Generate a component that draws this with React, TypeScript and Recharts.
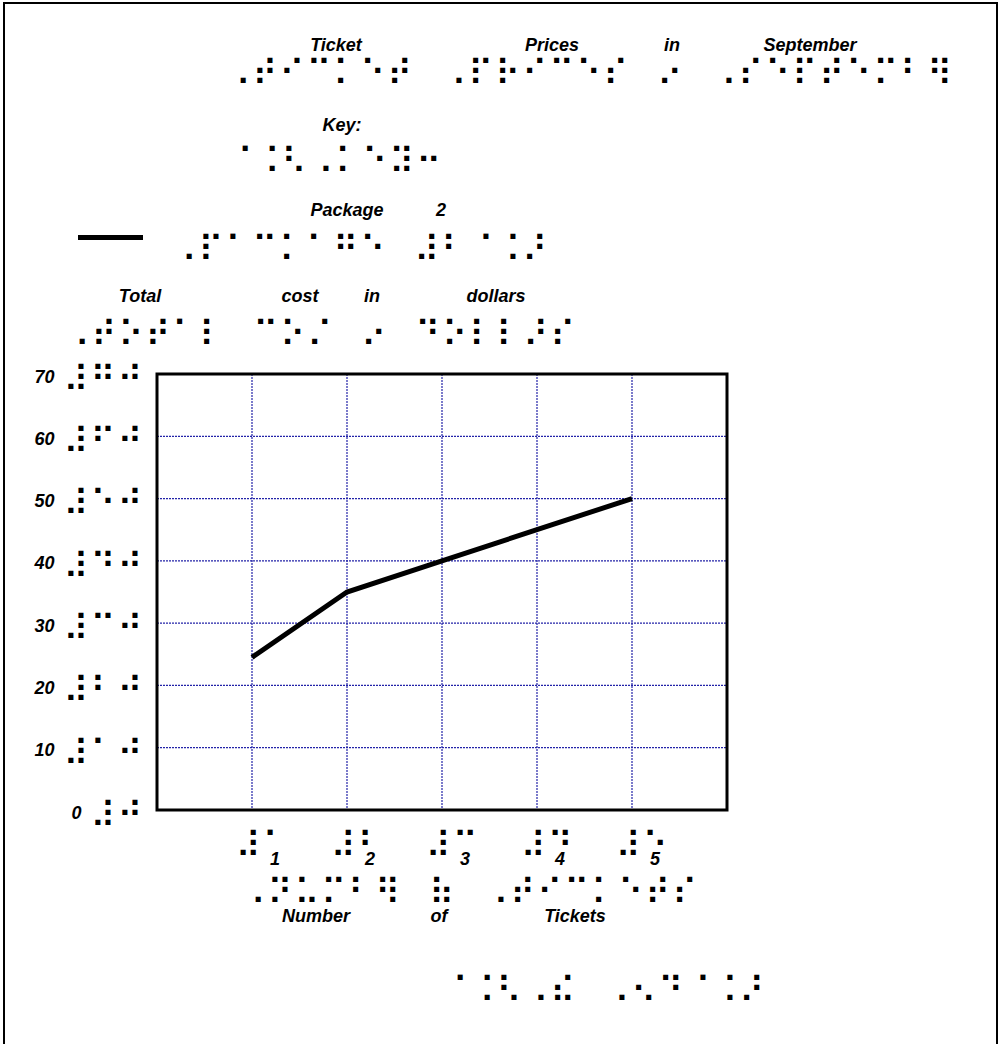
import { LineChart, Line, XAxis, YAxis, CartesianGrid, ReferenceArea } from "recharts";

// data
const tickets = [1, 2, 3, 4, 5];
const package2Cost = [24.5, 35, 40, 45, 50];
const yTicks = [0, 10, 20, 30, 40, 50, 60, 70];

// print labels
const titleWords = ["Ticket", "Prices", "in", "September"];
const keyWords = ["Key:"];
const legendWords = ["Package", "2"];
const yTitleWords = ["Total", "cost", "in", "dollars"];
const xTitleWords = ["Number", "of", "Tickets"];

// braille lines (UEB grade 2)
const titleBraille = "⠠⠞⠊⠉⠅⠑⠞⠀⠠⠏⠗⠊⠉⠑⠎⠀⠔⠀⠠⠎⠑⠏⠞⠑⠍⠃⠻";
const keyBraille = "⠈⠨⠣⠠⠅⠑⠽⠒";
const legendBraille = "⠠⠏⠁⠉⠅⠁⠛⠑⠀⠼⠃⠈⠨⠜";
const yTitleBraille = "⠠⠞⠕⠞⠁⠇⠀⠉⠕⠌⠀⠔⠀⠙⠕⠇⠇⠜⠎";
const xTitleBraille = "⠠⠝⠥⠍⠃⠻⠀⠷⠀⠠⠞⠊⠉⠅⠑⠞⠎";
const footerBraille = "⠈⠨⠣⠠⠮⠀⠠⠢⠙⠈⠨⠜";
const brailleDigits = ["⠚", "⠁", "⠃", "⠉", "⠙", "⠑", "⠋", "⠛", "⠓", "⠊"];

const data = tickets.map((t, i) => ({ tickets: t, cost: package2Cost[i] }));

const W = 999;
const H = 1044;
const PLOT = { left: 157, top: 374, right: 727, bottom: 810 };
const PITCH = 27; // braille cell pitch
const DOT_GAP = 10; // dot spacing inside a cell

const LABEL_FONT = {
  fontFamily: '"Liberation Sans", Arial, sans-serif',
  fontWeight: 700,
  fontStyle: "italic",
  fontSize: 18,
  fill: "#000",
};
const BRAILLE_FONT = '"DejaVu Sans"';

const toBrailleNumber = (n: number) =>
  "⠼" + String(n).split("").map((d) => brailleDigits[Number(d)]).join("");

// work out how the braille glyphs sit so dots land on a 10px grid
function measureBraille() {
  const fallback = { fontSize: 25, advance: 16, left: 4, top: 17, rowGap: 10 };
  try {
    const ctx = document.createElement("canvas").getContext("2d");
    if (!ctx) return fallback;
    ctx.font = `100px ${BRAILLE_FONT}`;
    const full = ctx.measureText("⠿");
    const one = ctx.measureText("⠁");
    const d = one.actualBoundingBoxLeft + one.actualBoundingBoxRight;
    const colGap = full.actualBoundingBoxLeft + full.actualBoundingBoxRight - d;
    if (!(colGap > 0)) return fallback;
    const s = DOT_GAP / colGap;
    return {
      fontSize: 100 * s,
      advance: full.width * s,
      left: (-full.actualBoundingBoxLeft + d / 2) * s,
      top: (full.actualBoundingBoxAscent - d / 2) * s,
      rowGap: ((full.actualBoundingBoxAscent + full.actualBoundingBoxDescent - d) / 2) * s,
    };
  } catch {
    return fallback;
  }
}

let metrics: ReturnType<typeof measureBraille> | null = null;
const getMetrics = () => (metrics ??= measureBraille());

// x = centre of first cell's left dot column, y = centre of top dot row
const Braille = ({ text, x, y }: { text: string; x: number; y: number }) => {
  const m = getMetrics();
  const sy = m.rowGap > 0 ? DOT_GAP / m.rowGap : 1;
  return (
    <text
      x={x - m.left}
      y={y + m.top}
      fontFamily={BRAILLE_FONT}
      fontSize={m.fontSize}
      fill="#000"
      transform={`translate(0 ${y}) scale(1 ${sy}) translate(0 ${-y})`}
      style={{ letterSpacing: `${PITCH - m.advance}px`, whiteSpace: "pre" }}
    >
      {text}
    </text>
  );
};

const Words = ({ words, xs, y }: { words: string[]; xs: number[]; y: number }) => (
  <>
    {words.map((w, i) => (
      <text key={w + i} x={xs[i]} y={y} textAnchor="middle" {...LABEL_FONT}>
        {w}
      </text>
    ))}
  </>
);

const renderYTick = (props: any) => {
  const { y, payload, index } = props;
  const br = toBrailleNumber(payload.value);
  const firstCell = 125 - (br.length - 1) * PITCH;
  return (
    <g key={`yt-${index}`}>
      <text x={firstCell - 16.5} y={y + 8.5} textAnchor="end" {...LABEL_FONT}>
        {payload.value}
      </text>
      <Braille text={br} x={firstCell} y={y - 8} />
    </g>
  );
};

const renderXTick = (props: any) => {
  const { x, payload, index } = props;
  return (
    <g key={`xt-${index}`}>
      <Braille text={toBrailleNumber(payload.value)} x={x - 8.7} y={832} />
      <text x={x + 23} y={865} textAnchor="middle" {...LABEL_FONT}>
        {payload.value}
      </text>
    </g>
  );
};

export default function App() {
  return (
    <div style={{ position: "relative", width: W, height: H, background: "#fff", overflow: "hidden" }}>
      <style>{"body{margin:0}"}</style>
      <div
        style={{
          position: "absolute",
          left: 3,
          top: 2,
          width: W - 8,
          height: H + 20,
          borderTop: "2px solid #000",
          borderLeft: "2px solid #000",
          borderRight: "2px solid #000",
        }}
      />
      <LineChart
        width={W}
        height={H}
        data={data}
        margin={{ top: PLOT.top, left: 0, right: W - PLOT.right, bottom: 0 }}
      >
        <CartesianGrid stroke="#2323a8" strokeWidth={1.2} strokeDasharray="2 1" />
        <XAxis
          dataKey="tickets"
          type="number"
          domain={[0, 6]}
          ticks={tickets}
          interval={0}
          height={H - PLOT.bottom}
          axisLine={false}
          tickLine={false}
          tick={renderXTick}
        />
        <YAxis
          type="number"
          domain={[0, 70]}
          ticks={yTicks}
          interval={0}
          width={PLOT.left}
          axisLine={false}
          tickLine={false}
          tick={renderYTick}
        />
        <ReferenceArea x1={0} x2={6} y1={0} y2={70} fill="none" stroke="#000" strokeWidth={3} />
        <Line
          dataKey="cost"
          name="Package 2"
          stroke="#000"
          strokeWidth={5}
          dot={false}
          activeDot={false}
          isAnimationActive={false}
        />
      </LineChart>
      <svg width={W} height={H} style={{ position: "absolute", left: 0, top: 0, pointerEvents: "none" }}>
        <Words words={titleWords} xs={[336, 552, 672, 810]} y={51} />
        <Braille text={titleBraille} x={233} y={60} />

        <Words words={keyWords} xs={[342]} y={131} />
        <Braille text={keyBraille} x={235} y={148} />

        <line x1={78} x2={143} y1={237.5} y2={237.5} stroke="#000" strokeWidth={5} />
        <Words words={legendWords} xs={[347, 441]} y={216} />
        <Braille text={legendBraille} x={179} y={236} />

        <Words words={yTitleWords} xs={[140, 300, 372, 496]} y={302} />
        <Braille text={yTitleBraille} x={72} y={321} />

        <Braille text={xTitleBraille} x={248} y={879} />
        <Words words={xTitleWords} xs={[316, 439, 575]} y={922} />

        <Braille text={footerBraille} x={450} y={977} />
      </svg>
    </div>
  );
}
